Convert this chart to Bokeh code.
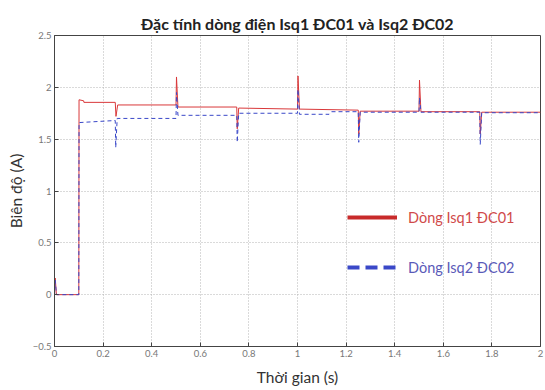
from bokeh.plotting import figure
from bokeh.models import Range1d, Legend, LegendItem, FixedTicker, ColumnDataSource
from bokeh.embed import file_html
from bokeh.resources import INLINE

# ---- data ----
t1 = [0, 0.003, 0.008, 0.1, 0.101, 0.12, 0.121, 0.25, 0.253, 0.26, 0.5, 0.502, 0.508,
      0.75, 0.752, 0.758, 1.0, 1.002, 1.008, 1.25, 1.252, 1.258, 1.5, 1.502, 1.508,
      1.75, 1.752, 1.758, 2.0]
isq1 = [0, 0.16, 0, 0, 1.88, 1.87, 1.855, 1.855, 1.72, 1.83, 1.83, 2.1, 1.81,
        1.81, 1.6, 1.80, 1.79, 2.11, 1.79, 1.78, 1.55, 1.77, 1.77, 2.07, 1.765,
        1.765, 1.55, 1.76, 1.76]
t2 = [0, 0.003, 0.008, 0.1, 0.101, 0.25, 0.252, 0.258, 0.5, 0.502, 0.508,
      0.75, 0.752, 0.758, 1.0, 1.002, 1.008, 1.13, 1.14, 1.25, 1.252, 1.258,
      1.5, 1.502, 1.508, 1.75, 1.752, 1.758, 2.0]
isq2 = [0, 0.14, 0, 0, 1.66, 1.68, 1.42, 1.70, 1.70, 1.95, 1.73,
        1.73, 1.47, 1.75, 1.75, 1.98, 1.74, 1.74, 1.765, 1.765, 1.47, 1.76,
        1.76, 1.9, 1.76, 1.76, 1.45, 1.755, 1.755]
x_ticks = [0, 0.2, 0.4, 0.6, 0.8, 1, 1.2, 1.4, 1.6, 1.8, 2]
y_ticks = [-0.5, 0, 0.5, 1, 1.5, 2, 2.5]
label1 = "Dòng Isq1 ĐC01"
label2 = "Dòng Isq2 ĐC02"

FONT = "Lato"
RED = "#d9383a"
BLUE = "#3a48c8"

p = figure(width=545, height=390, output_backend="svg", toolbar_location=None,
           x_range=Range1d(0, 2), y_range=Range1d(-0.5, 2.5),
           min_border_left=54, min_border_right=5, min_border_top=35, min_border_bottom=44,
           title="Đặc tính dòng điện Isq1 ĐC01 và Isq2 ĐC02")
p.title.align = "center"
p.title.text_font = FONT
p.title.text_font_size = "16px"
p.title.text_font_style = "bold"
p.title.text_color = "#222222"
p.title.standoff = 5

p.outline_line_color = "#444444"
p.outline_line_width = 1

for ax in (p.xaxis[0], p.yaxis[0]):
    ax.major_tick_in = 4
    ax.major_tick_out = 0
    ax.minor_tick_line_color = None
    ax.axis_line_color = "#444444"
    ax.major_tick_line_color = "#444444"
    ax.major_label_text_font = FONT
    ax.major_label_text_font_size = "9.5px"
    ax.major_label_text_color = "#777777"
    ax.axis_label_text_font = FONT
    ax.axis_label_text_font_size = "15.5px"
    ax.axis_label_text_font_style = "normal"
    ax.axis_label_text_color = "#333333"
p.xaxis[0].ticker = FixedTicker(ticks=x_ticks)
p.yaxis[0].ticker = FixedTicker(ticks=y_ticks)
p.xaxis[0].axis_label = "Thời gian (s)"
p.yaxis[0].axis_label = "Biên độ (A)"
p.xaxis[0].major_label_standoff = 3
p.yaxis[0].major_label_standoff = 3
p.xaxis[0].axis_label_standoff = 8
p.yaxis[0].axis_label_standoff = 5
p.xaxis[0].major_label_overrides = {0: "0", 1: "1", 2: "2"}
p.yaxis[0].major_label_overrides = {0: "0", 1: "1", 2: "2"}

p.xgrid.ticker = FixedTicker(ticks=x_ticks)
p.ygrid.ticker = FixedTicker(ticks=y_ticks)
p.grid.grid_line_color = "#b5b5b5"
p.grid.grid_line_dash = "1 2"
p.grid.grid_line_width = 1

src1 = ColumnDataSource(dict(t=t1, v=isq1))
src2 = ColumnDataSource(dict(t=t2, v=isq2))
p.line("t", "v", source=src1, line_color=RED, line_width=1)
p.line("t", "v", source=src2, line_color=BLUE, line_width=1, line_dash="4 3")

# legend-only glyphs (thicker, like the original's legend); NaN data draws nothing in the plot
nan = float("nan")
r1 = p.line("t", "v", source=ColumnDataSource(dict(t=[nan], v=[nan])),
            line_color="#c82a2a", line_width=4)
r2 = p.line("t", "v", source=ColumnDataSource(dict(t=[nan], v=[nan])),
            line_color="#3a48c8", line_width=4, line_dash="12 6")

for r, lab, col, loc in ((r1, label1, "#d04a4a", (293, 119)), (r2, label2, "#5a5ab8", (293, 69))):
    lg = Legend(items=[LegendItem(label=lab, renderers=[r])], location=loc)
    lg.background_fill_alpha = 0
    lg.border_line_color = None
    lg.glyph_width = 50
    lg.label_standoff = 11
    lg.label_text_font = FONT
    lg.label_text_font_size = "14.5px"
    lg.label_text_color = col
    lg.padding = 0
    lg.margin = 0
    p.add_layout(lg, "center")

open("out.html", "w").write(file_html(p, INLINE))
